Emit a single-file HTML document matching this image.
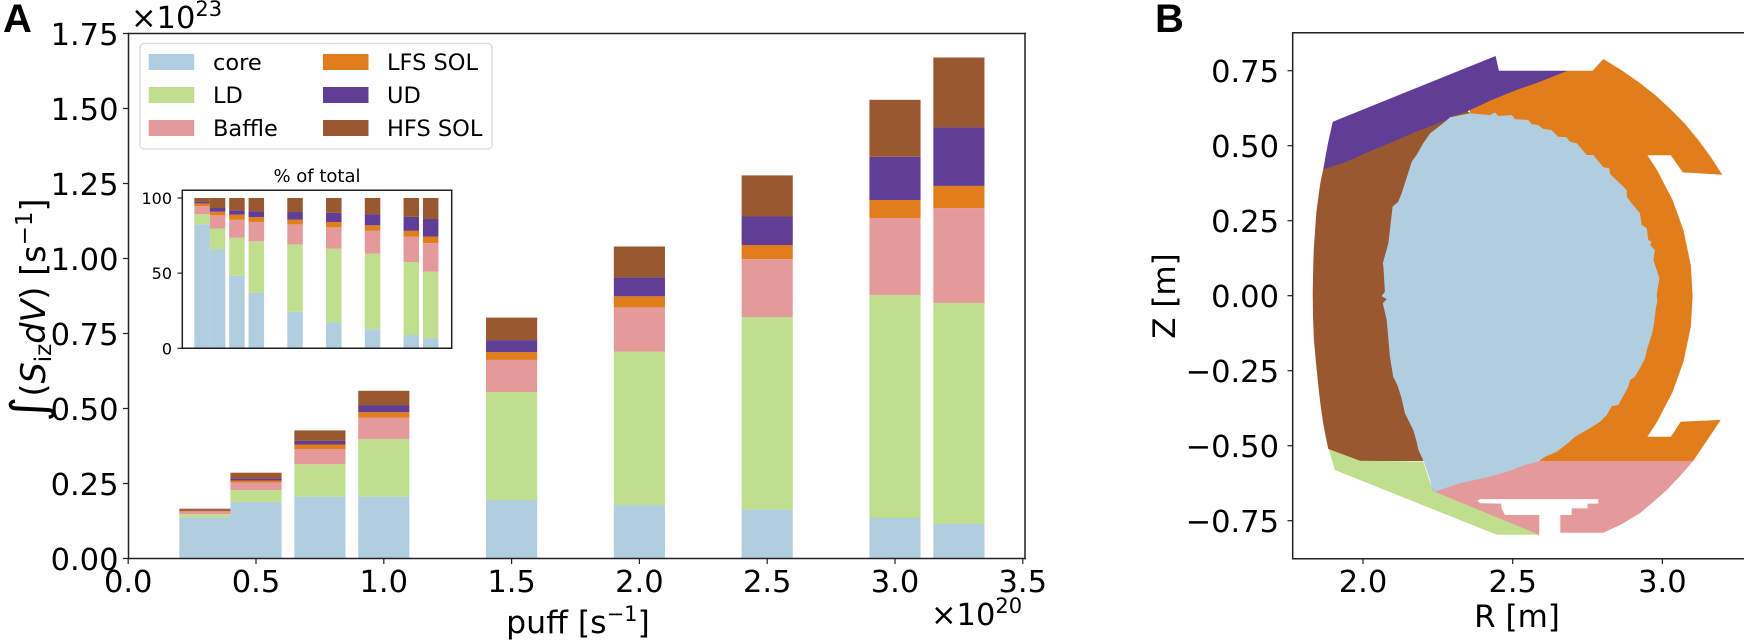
<!DOCTYPE html>
<html lang="en">
<head>
<meta charset="utf-8">
<title>Ionisation source by region</title>
<style>
html,body{margin:0;padding:0;background:#fff;width:1744px;height:641px;overflow:hidden}
svg{display:block}
text{font-family:"DejaVu Sans","Liberation Sans",sans-serif;fill:#000}
</style>
</head>
<body>
<svg id="chart" xmlns="http://www.w3.org/2000/svg" width="1744" height="641" viewBox="0 0 1744 641">
  <text x="3" y="32" style="font-family:'Liberation Sans',sans-serif;font-weight:700;font-size:40px">A</text>
  <text x="1155" y="32" style="font-family:'Liberation Sans',sans-serif;font-weight:700;font-size:40px">B</text>
  <text transform="translate(45,310) rotate(-90)" text-anchor="middle" font-size="33.5"><tspan font-size="48">∫</tspan>(<tspan font-style="italic">S</tspan><tspan font-size="23" dy="6">iz</tspan><tspan font-style="italic" dy="-6">dV</tspan>) [s<tspan font-size="23" dy="-13">−1</tspan><tspan dy="13">]</tspan></text>
  <text x="578" y="633" text-anchor="middle" font-size="31.5">puff [s<tspan font-size="21" dy="-12">−1</tspan><tspan dy="12">]</tspan></text>
  <text x="131" y="28" font-size="30.5">×10<tspan font-size="21" dy="-12">23</tspan></text>
  <text x="931" y="625" font-size="30.5">×10<tspan font-size="21" dy="-12">20</tspan></text>
  <text x="1517" y="627" text-anchor="middle" font-size="31">R [m]</text>
  <text transform="translate(1175,296) rotate(-90)" text-anchor="middle" font-size="31">Z [m]</text>
  <text x="317" y="182" text-anchor="middle" font-size="18">% of total</text>
</svg>
<script>
// ---- Panel A data (units of 1e23 s^-1) ----
const puff = [0.3, 0.5, 0.75, 1.0, 1.5, 2.0, 2.5, 3.0, 3.25];
const coreValues = [0.137, 0.188, 0.206, 0.206, 0.195, 0.178, 0.163, 0.135, 0.115];
const ldValues = [0.011, 0.040, 0.108, 0.192, 0.360, 0.512, 0.642, 0.743, 0.737];
const baffleValues = [0.009, 0.025, 0.051, 0.072, 0.107, 0.147, 0.193, 0.257, 0.316];
const lfsValues = [0.003, 0.007, 0.015, 0.018, 0.026, 0.037, 0.047, 0.060, 0.074];
const udValues = [0.002, 0.007, 0.012, 0.022, 0.040, 0.063, 0.095, 0.144, 0.195];
const hfsValues = [0.004, 0.019, 0.035, 0.049, 0.075, 0.103, 0.137, 0.190, 0.233];
const barWidth = 0.2;
const xTicks = ['0.0', '0.5', '1.0', '1.5', '2.0', '2.5', '3.0', '3.5'];
const yTicks = ['0.00', '0.25', '0.50', '0.75', '1.00', '1.25', '1.50', '1.75'];
const insetTicks = ['0', '50', '100'];
const seriesNames = ['core', 'LD', 'Baffle', 'LFS SOL', 'UD', 'HFS SOL'];
const seriesColors = ['#b1cde0', '#bfdf8e', '#e49a9b', '#e27d1c', '#603e95', '#9a5830'];

// ---- Panel B data (R [m], Z [m]) ----
const rTicks = ['2.0', '2.5', '3.0'];
const zTicks = ['\u22120.75', '\u22120.50', '\u22120.25', '0.00', '0.25', '0.50', '0.75'];
const hfsRegion = [[1.867,.421],[1.858,.379],[1.851,.330],[1.844,.276],[1.840,.219],[1.836,.162],[1.834,.108],[1.833,.059],[1.832,.008],[1.833,-.068],[1.836,-.148],[1.843,-.224],[1.851,-.303],[1.858,-.364],[1.867,-.425],[1.875,-.468],[1.884,-.511],[1.990,-.551],[2.201,-.551],[2.291,-.014],[2.357,.609],[2.324,.636],[2.124,.569]];
const lfsRegion = [[2.684,.750],[2.767,.750],[2.803,.789],[2.863,.752],[2.921,.712],[2.976,.669],[3.027,.622],[3.075,.573],[3.120,.519],[3.161,.463],[3.200,.403],[3.068,.411],[3.028,.468],[2.950,.468],[2.982,.419],[3.034,.319],[3.070,.219],[3.095,.102],[3.101,-.001],[3.095,-.104],[3.070,-.221],[3.034,-.321],[2.982,-.421],[2.950,-.470],[3.028,-.470],[3.061,-.420],[3.195,-.414],[3.103,-.551],[2.591,-.551],[2.458,-.014],[2.357,.586],[2.357,.636]];
const udRegion = [[1.899,.580],[2.443,.799],[2.454,.750],[2.684,.750],[2.591,.713],[2.513,.686],[2.424,.650],[2.352,.616],[2.291,.595],[2.280,.586],[2.213,.560],[2.168,.543],[2.101,.513],[2.034,.486],[1.946,.447],[1.867,.421],[1.883,.509]];
const baffleRegion = [[2.22,-.66],[2.257,-.581],[2.574,-.531],[2.591,-.551],[3.103,-.551],[3.059,-.601],[3.014,-.648],[2.969,-.688],[2.925,-.725],[2.865,-.761],[2.803,-.790],[2.589,-.790],[2.589,-.80]];
const baffleGap = [[2.382,-.684],[2.391,-.678],[2.786,-.678],[2.786,-.693],[2.750,-.693],[2.750,-.709],[2.697,-.709],[2.697,-.731],[2.659,-.731],[2.659,-.798],[2.589,-.798],[2.589,-.731],[2.474,-.731],[2.463,-.709],[2.461,-.693],[2.391,-.692]];
const ldRegion = [[1.885,-.512],[1.906,-.581],[2.447,-.797],[2.589,-.797],[2.233,-.651],[2.201,-.553],[1.990,-.550]];
const coreRegion = [[2.268,.575],[2.291,.595],[2.357,.608],[2.424,.602],[2.441,.611],[2.452,.599],[2.497,.602],[2.508,.588],[2.552,.586],[2.563,.572],[2.585,.569],[2.602,.556],[2.630,.552],[2.652,.530],[2.680,.528],[2.691,.513],[2.714,.508],[2.747,.469],[2.769,.469],[2.803,.428],[2.823,.425],[2.825,.406],[2.881,.352],[2.881,.330],[2.897,.308],[2.925,.275],[2.931,.236],[2.948,.225],[2.953,.186],[2.964,.180],[2.959,.169],[2.975,.152],[2.970,.119],[2.990,.058],[2.981,.002],[2.983,-.020],[2.979,-.037],[2.972,-.092],[2.966,-.125],[2.948,-.181],[2.942,-.209],[2.925,-.242],[2.908,-.270],[2.892,-.281],[2.886,-.303],[2.853,-.364],[2.831,-.368],[2.814,-.398],[2.792,-.420],[2.758,-.442],[2.708,-.470],[2.686,-.490],[2.647,-.520],[2.608,-.537],[2.585,-.553],[2.541,-.564],[2.491,-.584],[2.424,-.603],[2.324,-.625],[2.240,-.653],[2.229,-.642],[2.224,-.614],[2.201,-.548],[2.185,-.514],[2.179,-.487],[2.168,-.448],[2.151,-.414],[2.140,-.392],[2.129,-.342],[2.115,-.298],[2.101,-.270],[2.090,-.203],[2.079,-.081],[2.066,-.025],[2.079,-.012],[2.062,-.001],[2.073,.013],[2.068,.097],[2.066,.108],[2.085,.175],[2.090,.219],[2.099,.297],[2.118,.313],[2.129,.341],[2.163,.447],[2.179,.469],[2.201,.508],[2.224,.541]];

const NS = 'http://www.w3.org/2000/svg';
const svg = document.getElementById('chart');
const allSeries = [coreValues, ldValues, baffleValues, lfsValues, udValues, hfsValues];

// Axis functions
const mainX = v => 128.2 + v * 255.6;
const mainY = v => 558.5 - v * 300;
const insetX = v => 178.8 + v * 77.5;
const insetY = v => 348.3 - v * 1.503;
const rX = v => 1363 + (v - 2) * 299.4;
const zY = v => 295.7 - v * 300;

function make(tag, attrs, parent) {
  const el = document.createElementNS(NS, tag);
  for (const k in attrs) el.setAttribute(k, attrs[k]);
  (parent || svg).appendChild(el);
  return el;
}
function slug(s) { return s.toLowerCase().replace(/\s+/g, '-'); }

function drawTick(x1, y1, x2, y2, label, tx, ty, anchor, size, name) {
  const t = make('line', {x1, y1, x2, y2, stroke: '#222', 'stroke-width': 1.2});
  
  
  const l = make('text', {x: tx, y: ty, 'text-anchor': anchor, 'font-size': size});
  l.textContent = label;
  
  
}

function drawSpines(left, top, right, bottom, name, sides) {
  sides.forEach(s => {
    const c = {l: [left, top, left, bottom], r: [right, top, right, bottom], t: [left, top, right, top], b: [left, bottom, right, bottom]}[s];
    const ln = make('line', {x1: c[0], y1: c[1], x2: c[2], y2: c[3], stroke: '#222', 'stroke-width': 1.5, 'stroke-linecap': 'square'});
    
    
  });
}

// Main stacked bars
puff.forEach((p, i) => {
  let base = 0;
  allSeries.forEach((vals, s) => {
    const top = base + vals[i];
    const r = make('rect', {x: mainX(p - barWidth / 2), y: mainY(top), width: mainX(p + barWidth / 2) - mainX(p - barWidth / 2), height: mainY(base) - mainY(top), fill: seriesColors[s]});
    
    
    base = top;
  });
});
drawSpines(128.5, 33.5, 1025, 558.5, 'main-axes', ['l', 'r', 't', 'b']);
xTicks.forEach(t => {
  const x = mainX(parseFloat(t));
  drawTick(x, 558.5, x, 564, t, x, 592, 'middle', 30.5, 'x-axis');
});
yTicks.forEach(t => {
  const y = mainY(parseFloat(t));
  drawTick(128.5, y, 123, y, t, 118.5, y + 11.5, 'end', 30.5, 'y-axis');
});

// Legend
const legendBox = make('rect', {x: 140, y: 43.5, width: 352, height: 105.5, rx: 4, fill: '#fff', stroke: '#dcdcdc', 'stroke-width': 1.3});


seriesNames.forEach((n, i) => {
  const col = i < 3 ? 0 : 1;
  const row = i % 3;
  const sw = make('rect', {x: col ? 323 : 148.7, y: 54 + row * 33, width: 45.5, height: 16, fill: seriesColors[i]});
  
  
  const tx = make('text', {x: col ? 387 : 213, y: 70 + row * 33, 'font-size': 22.5});
  tx.textContent = n;
  
  
});

// Inset (% of total, derived from the main series)
const insetBg = make('rect', {x: 182.3, y: 190.3, width: 269.4, height: 158, fill: '#fff'});


puff.forEach((p, i) => {
  const total = allSeries.reduce((a, vals) => a + vals[i], 0);
  let base = 0;
  allSeries.forEach((vals, s) => {
    const top = base + vals[i] / total * 100;
    const r = make('rect', {x: insetX(p - barWidth / 2), y: insetY(top), width: insetX(p + barWidth / 2) - insetX(p - barWidth / 2), height: insetY(base) - insetY(top), fill: seriesColors[s]});
    
    
    base = top;
  });
});
drawSpines(182.3, 190.3, 451.7, 348.3, 'inset-axes', ['l', 'r', 't', 'b']);
insetTicks.forEach(t => {
  const y = insetY(parseFloat(t));
  drawTick(182.3, y, 177.5, y, t, 172, y + 6, 'end', 16, 'inset-y-axis');
});

// Panel B regions
function drawRegion(points, fill, name) {
  const d = points.map(pt => rX(pt[0]).toFixed(1) + ',' + zY(pt[1]).toFixed(1)).join(' ');
  const pg = make('polygon', {points: d, fill: fill});
  
  
}
drawRegion(hfsRegion, seriesColors[5], 'region-hfs-sol');
drawRegion(lfsRegion, seriesColors[3], 'region-lfs-sol');
drawRegion(udRegion, seriesColors[4], 'region-ud');
drawRegion(baffleRegion, seriesColors[2], 'region-baffle');
drawRegion(ldRegion, seriesColors[1], 'region-ld');
drawRegion(baffleGap, '#ffffff', 'baffle-gap');
drawRegion(coreRegion, seriesColors[0], 'region-core');

drawSpines(1292.7, 32.7, 1750, 558.7, 'poloidal-axes', ['l', 't', 'b']);
rTicks.forEach(t => {
  const x = rX(parseFloat(t));
  drawTick(x, 558.7, x, 564, t, x, 592, 'middle', 30.5, 'r-axis');
});
zTicks.forEach(t => {
  const y = zY(parseFloat(t.replace('\u2212', '-')));
  drawTick(1292.7, y, 1287.5, y, t, 1279, y + 11.5, 'end', 30.5, 'z-axis');
});
</script>
</body>
</html>
